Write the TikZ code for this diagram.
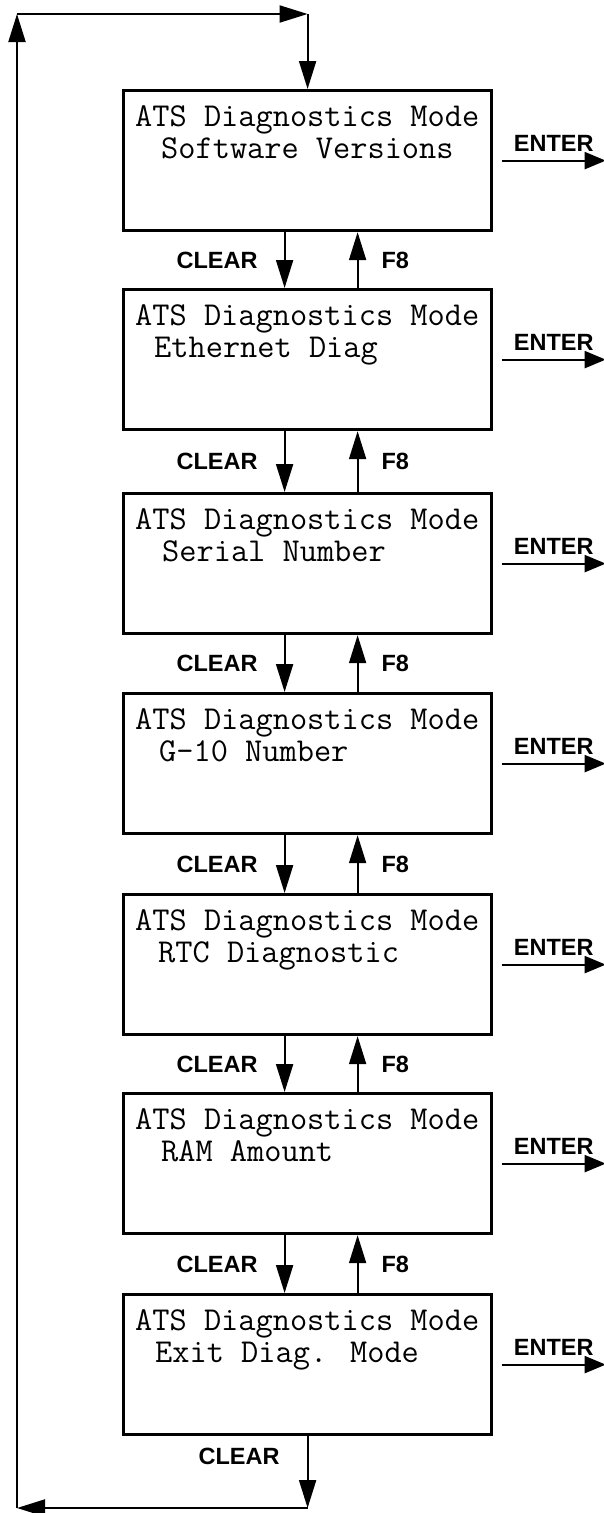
\documentclass[tikz,border=0pt]{standalone}
\usepackage{fontspec}
\newfontfamily\keyfont{Liberation Sans}
\usepackage{tikz}
\usetikzlibrary{arrows.meta,positioning,calc}
\tikzset{
  screen/.style={draw,line width=3.2pt,minimum width=368pt,minimum height=140pt,
                 inner sep=0pt,anchor=north west},
  screentext/.style={anchor=base west,inner sep=0pt,align=left,
                     font=\ttfamily\fontsize{33.4}{32}\selectfont},
  keyarrow/.style={line width=2pt,-{Triangle[length=28pt,width=17pt]}},
  enterarrow/.style={line width=2pt,-{Triangle[length=21pt,width=17pt]}},
  keylabel/.style={font=\keyfont\bfseries\fontsize{23.5}{26}\selectfont,inner sep=0pt}
}

\begin{document}
\begin{tikzpicture}[x=1pt,y=-1pt]
  \useasboundingbox (0,0) rectangle (604,1513);

  % display screens
  \node[screen] (b1) at (122,89) {};
  \node[screen] (b2) at (122,288) {};
  \node[screen] (b3) at (122,492) {};
  \node[screen] (b4) at (122,692) {};
  \node[screen] (b5) at (122,893) {};
  \node[screen] (b6) at (122,1092) {};
  \node[screen] (b7) at (122,1293) {};

  % base anchor sits on the second line
  \node[screentext] (t1) at ([shift={(13,69)}]b1.north west)
    {ATS Diagnostics Mode\\\hspace*{26pt}Software Versions};
  \node[screentext] (t2) at ([shift={(13,69)}]b2.north west)
    {ATS Diagnostics Mode\\\hspace*{19pt}Ethernet Diag};
  \node[screentext] (t3) at ([shift={(13,69)}]b3.north west)
    {ATS Diagnostics Mode\\\hspace*{27pt}Serial Number};
  \node[screentext] (t4) at ([shift={(13,69)}]b4.north west)
    {ATS Diagnostics Mode\\\hspace*{24pt}G-10 Number};
  \node[screentext] (t5) at ([shift={(13,69)}]b5.north west)
    {ATS Diagnostics Mode\\\hspace*{23pt}RTC Diagnostic};
  \node[screentext] (t6) at ([shift={(13,69)}]b6.north west)
    {ATS Diagnostics Mode\\\hspace*{26pt}RAM Amount};
  \node[screentext] (t7) at ([shift={(13,69)}]b7.north west)
    {ATS Diagnostics Mode\\\hspace*{20pt}Exit Diag. Mode};

  % CLEAR goes down, F8 goes up
  \draw[keyarrow] ([xshift=-23pt]b1.south) -- node[keylabel,left=26pt] (clear1) {CLEAR} ([xshift=-23pt]b2.north);
  \draw[keyarrow] ([xshift=50pt]b2.north) -- node[keylabel,right=23pt] (f81) {F8} ([xshift=50pt]b1.south);
  \draw[keyarrow] ([xshift=-23pt]b2.south) -- node[keylabel,left=26pt] (clear2) {CLEAR} ([xshift=-23pt]b3.north);
  \draw[keyarrow] ([xshift=50pt]b3.north) -- node[keylabel,right=23pt] (f82) {F8} ([xshift=50pt]b2.south);
  \draw[keyarrow] ([xshift=-23pt]b3.south) -- node[keylabel,left=26pt] (clear3) {CLEAR} ([xshift=-23pt]b4.north);
  \draw[keyarrow] ([xshift=50pt]b4.north) -- node[keylabel,right=23pt] (f83) {F8} ([xshift=50pt]b3.south);
  \draw[keyarrow] ([xshift=-23pt]b4.south) -- node[keylabel,left=26pt] (clear4) {CLEAR} ([xshift=-23pt]b5.north);
  \draw[keyarrow] ([xshift=50pt]b5.north) -- node[keylabel,right=23pt] (f84) {F8} ([xshift=50pt]b4.south);
  \draw[keyarrow] ([xshift=-23pt]b5.south) -- node[keylabel,left=26pt] (clear5) {CLEAR} ([xshift=-23pt]b6.north);
  \draw[keyarrow] ([xshift=50pt]b6.north) -- node[keylabel,right=23pt] (f85) {F8} ([xshift=50pt]b5.south);
  \draw[keyarrow] ([xshift=-23pt]b6.south) -- node[keylabel,left=26pt] (clear6) {CLEAR} ([xshift=-23pt]b7.north);
  \draw[keyarrow] ([xshift=50pt]b7.north) -- node[keylabel,right=23pt] (f86) {F8} ([xshift=50pt]b6.south);

  % ENTER outputs
  \coordinate (out1) at ([xshift=112.5pt]b1.east);
  \coordinate (out2) at ([xshift=112.5pt]b2.east);
  \coordinate (out3) at ([xshift=112.5pt]b3.east);
  \coordinate (out4) at ([xshift=112.5pt]b4.east);
  \coordinate (out5) at ([xshift=112.5pt]b5.east);
  \coordinate (out6) at ([xshift=112.5pt]b6.east);
  \coordinate (out7) at ([xshift=112.5pt]b7.east);
  \draw[enterarrow] ([xshift=8.5pt]b1.east) -- node[keylabel,above=8.5pt] (enter1) {ENTER} (out1);
  \draw[enterarrow] ([xshift=8.5pt]b2.east) -- node[keylabel,above=8.5pt] (enter2) {ENTER} (out2);
  \draw[enterarrow] ([xshift=8.5pt]b3.east) -- node[keylabel,above=8.5pt] (enter3) {ENTER} (out3);
  \draw[enterarrow] ([xshift=8.5pt]b4.east) -- node[keylabel,above=8.5pt] (enter4) {ENTER} (out4);
  \draw[enterarrow] ([xshift=8.5pt]b5.east) -- node[keylabel,above=8.5pt] (enter5) {ENTER} (out5);
  \draw[enterarrow] ([xshift=8.5pt]b6.east) -- node[keylabel,above=8.5pt] (enter6) {ENTER} (out6);
  \draw[enterarrow] ([xshift=8.5pt]b7.east) -- node[keylabel,above=8.5pt] (enter7) {ENTER} (out7);

  % wrap around from the last screen to the first
  \coordinate (lb) at (17,1508);
  \coordinate (lt) at (17,14);
  \coordinate (rt) at (b1.north |- lt);
  \coordinate (rb) at (b7.south |- lb);
  \draw[keyarrow] (b7.south) -- node[keylabel,pos=0.28,left=27pt] (clear7) {CLEAR} (rb);
  \draw[keyarrow] (rb) -- (lb);
  \draw[keyarrow] (lb) -- (lt);
  \draw[keyarrow] (lt) -- (rt);
  \draw[keyarrow] (rt) -- (b1.north);
\end{tikzpicture}
\end{document}
